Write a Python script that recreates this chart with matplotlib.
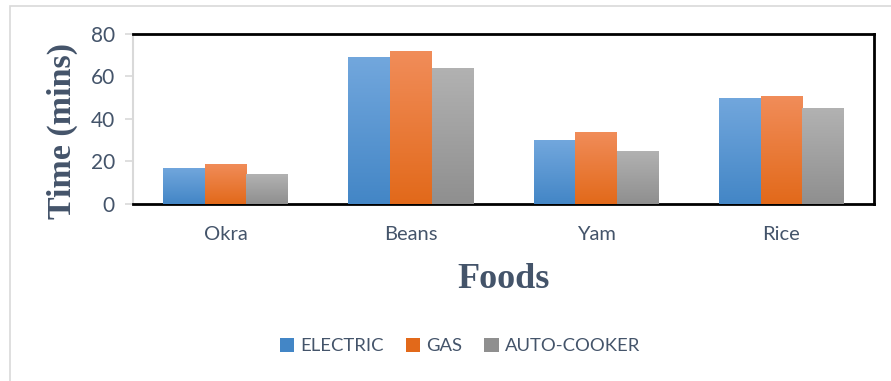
import numpy as np
import matplotlib
matplotlib.use("Agg")
import matplotlib.pyplot as plt
from matplotlib.colors import LinearSegmentedColormap
from matplotlib.patches import Rectangle

# Cooking time per food and cooker type
foods = ["Okra", "Beans", "Yam", "Rice"]
electric = [17, 69, 30, 50]
gas = [19, 72, 34, 51]
auto_cooker = [14, 64, 25, 45]
series_names = ["ELECTRIC", "GAS", "AUTO-COOKER"]
y_ticks = [0, 20, 40, 60, 80]

# (top colour, bottom colour) for each series' vertical gradient
gradients = [("#72a7dd", "#4386c6"), ("#f18d5a", "#e2691a"), ("#b2b2b2", "#8f8f8f")]

text_col = "#44546a"
tick_font = "Lato"

fig = plt.figure(figsize=(8.91, 3.81), dpi=100)
ax = fig.add_axes([0.1493, 0.4646, 0.9810 - 0.1493, 0.9108 - 0.4646])

# light outer chart frame
fig.patches.append(Rectangle((10 / 891, -0.1), 1.2, (381 - 6) / 381 + 0.1,
                             transform=fig.transFigure, fill=False,
                             edgecolor="#d9d9d9", linewidth=1.2, zorder=0))

x = np.arange(len(foods))
width = 0.225
offsets = [-width, 0, width]
all_series = [electric, gas, auto_cooker]

grad = np.linspace(0, 1, 256).reshape(-1, 1)
handles = []
for vals, off, (top_c, bot_c), name in zip(all_series, offsets, gradients, series_names):
    cmap = LinearSegmentedColormap.from_list(name, [bot_c, top_c])
    bars = ax.bar(x + off, vals, width=width, color=bot_c, edgecolor="none",
                  label=name, zorder=2)
    for b in bars:
        x0, y0 = b.get_x(), b.get_y()
        w, h = b.get_width(), b.get_height()
        im = ax.imshow(grad, cmap=cmap, origin="lower", aspect="auto",
                       extent=(x0, x0 + w, y0, y0 + h), zorder=3)
        im.set_clip_path(b)
    handles.append(Rectangle((0, 0), 1, 1, facecolor=bot_c, edgecolor="none"))

ax.set_xlim(-0.5, len(foods) - 0.5)
ax.set_ylim(0, 80)
ax.set_yticks(y_ticks)
ax.set_xticks(x)
ax.set_xticklabels(foods)

for side in ["top", "right", "bottom"]:
    ax.spines[side].set_color("black")
    ax.spines[side].set_linewidth(2)
ax.spines["left"].set_color("#d9d9d9")
ax.spines["left"].set_linewidth(1.5)

ax.tick_params(axis="y", length=6, width=1.2, color="#d9d9d9", labelsize=15,
               labelcolor=text_col, pad=7)
ax.tick_params(axis="x", length=0, labelsize=14.5, labelcolor=text_col, pad=16)
for lab in ax.get_xticklabels() + ax.get_yticklabels():
    lab.set_fontfamily(tick_font)

ylab = ax.set_ylabel("Time (mins)", fontfamily="Liberation Serif", fontweight="bold",
                     fontsize=24.5, color=text_col)
ylab.set_va("center")
ax.yaxis.set_label_coords(-0.0957, 0.43)
ax.set_xlabel("Foods", fontfamily="Liberation Serif", fontweight="bold",
              fontsize=26, color=text_col, labelpad=14)

leg = fig.legend(handles, series_names, loc="center", bbox_to_anchor=(0.516, 1 - 346 / 381),
                 ncol=3, frameon=False, handlelength=0.8, handleheight=0.8,
                 handletextpad=0.3, columnspacing=1.2,
                 prop={"family": tick_font, "size": 13.3})
for t in leg.get_texts():
    t.set_color(text_col)

fig.savefig("out.png", dpi=100)
